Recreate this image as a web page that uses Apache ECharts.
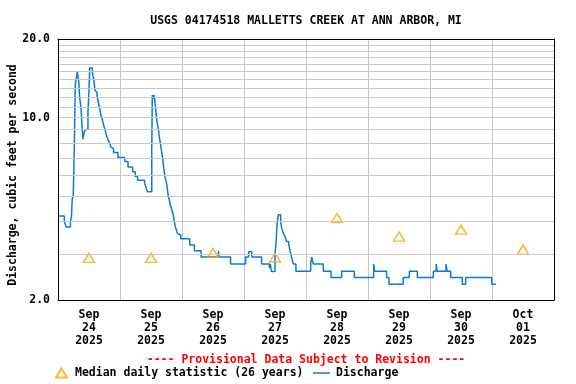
<!DOCTYPE html>
<html><head><meta charset="utf-8">
<script src="https://cdn.jsdelivr.net/npm/echarts@6/dist/echarts.min.js"></script>
<style>html,body{margin:0;padding:0;background:#fff}#c{width:576px;height:384px}</style>
</head><body><div id="c"></div>
<script>
// Hours since 2025-09-24 00:00 at which discharge changes, and the value held from then
const dischargeHours = [0,2.45,3.2,4.8,5.2,5.5,5.9,6.3,6.7,7.1,7.5,7.7,8.0,8.4,8.9,9.3,9.7,9.9,10.3,10.6,11.6,12.0,12.3,13.3,13.5,13.9,14.3,14.7,15.1,15.5,15.9,16.3,16.6,17.0,17.4,17.8,18.2,18.6,19.0,19.4,19.9,20.5,21.2,21.5,23.2,25.8,27.1,28.9,29.9,30.8,33.5,34.1,34.6,36.3,36.5,36.8,37.2,37.4,37.7,38.0,38.4,38.8,39.2,39.6,40.0,40.4,40.8,41.1,41.5,41.9,42.3,42.7,43.1,43.5,43.9,44.2,44.6,45.0,45.4,45.8,46.2,46.6,47.5,51.0,52.8,55.4,62.1,62.3,66.8,72.6,73.8,75.0,78.8,81.8,82.2,82.6,84.0,84.4,84.8,85.3,86.2,86.6,87.2,87.9,88.5,89.3,89.8,90.5,91.1,92.1,97.8,98.2,98.8,102.7,105.7,109.8,114.7,122.2,122.5,127.2,128.1,133.6,136.0,139.1,145.3,146.4,146.8,150.2,150.6,152.0,156.5,157.8,167.9,169.5];
const dischargeValues = [4.2,4.0,3.81,4.0,4.15,4.87,5.0,7.64,13.4,14.2,15.0,14.4,13.8,11.9,10.9,9.25,8.26,8.6,8.84,9.0,10.5,12.7,15.5,15.0,14.5,13.9,12.7,12.5,12.0,11.6,11.1,10.6,10.2,10.0,9.57,9.25,9.0,8.66,8.4,8.2,8.02,7.7,7.6,7.35,7.03,6.78,6.46,6.2,5.94,5.75,5.6,5.4,5.2,7.67,12.2,11.8,12.2,11.8,11.0,10.3,9.5,9.1,8.45,8.0,7.52,7.1,6.59,6.2,5.86,5.68,5.37,4.97,4.83,4.6,4.5,4.36,4.27,4.0,3.82,3.72,3.6,3.55,3.43,3.25,3.09,2.92,3.09,2.92,2.75,2.92,3.06,2.92,2.75,2.65,2.75,2.57,3.03,3.3,3.92,4.24,3.97,3.77,3.6,3.5,3.35,3.27,3.1,2.89,2.75,2.58,2.75,2.92,2.75,2.58,2.44,2.58,2.44,2.75,2.58,2.44,2.3,2.44,2.58,2.44,2.58,2.75,2.58,2.75,2.58,2.44,2.3,2.44,2.3,2.3];

const medianHours = [12,36,60,84,108,132,156,180];
const medianValues = [2.9,2.9,3.03,2.91,4.12,3.5,3.72,3.12];

const xTickHours = [12,36,60,84,108,132,156,180];
const xTickLabels = ['Sep\n24\n2025','Sep\n25\n2025','Sep\n26\n2025','Sep\n27\n2025','Sep\n28\n2025','Sep\n29\n2025','Sep\n30\n2025','Oct\n01\n2025'];
const yGridValues = [3,4,5,6,7,8,9,10,11,12,13,14,15,16,17,18,19];

const titleText = 'USGS 04174518 MALLETTS CREEK AT ANN ARBOR, MI';
const yAxisTitle = 'Discharge, cubic feet per second';
const provisionalText = '---- Provisional Data Subject to Revision ----';
const medianName = 'Median daily statistic (26 years)';
const dischargeName = 'Discharge';

const FONT = 'DejaVu Sans Mono';
const FS = 11.5;
const legendText = {color: '#000', fontFamily: FONT, fontWeight: 'bold', fontSize: FS, lineHeight: 14};

const chart = echarts.init(document.getElementById('c'), null, {renderer: 'canvas'});
const lineData = dischargeHours.map((h, i) => [h, dischargeValues[i]]);
const medianData = medianHours.map((h, i) => [h, medianValues[i]]);

chart.setOption({
  animation: false,
  backgroundColor: '#fff',
  grid: {left: 58, right: 22, top: 39, bottom: 84, containLabel: false},
  xAxis: [{
    type: 'value', min: 0, max: 192, interval: 24,
    axisLine: {show: true, lineStyle: {color: '#000', width: 1}},
    axisTick: {show: false},
    splitLine: {show: true, showMinLine: false, showMaxLine: false, lineStyle: {color: '#c8c8c8', width: 1}},
    axisLabel: {
      customValues: xTickHours,
      margin: 9,
      color: '#000', fontFamily: FONT, fontWeight: 'bold', fontSize: FS, lineHeight: 13,
      formatter: v => xTickLabels[xTickHours.indexOf(Math.round(v))] || ''
    }
  }, {
    type: 'value', position: 'top', min: 0, max: 192, z: 5,
    axisLine: {show: true, onZero: false, lineStyle: {color: '#000', width: 1}},
    axisTick: {show: false}, axisLabel: {show: false}, splitLine: {show: false}
  }],
  yAxis: [{
    type: 'log', logBase: 10, min: 2, max: 20, z: 5,
    axisLine: {show: true, onZero: false, lineStyle: {color: '#000', width: 1}},
    axisTick: {show: false},
    splitLine: {show: false},
    axisLabel: {
      showMinLabel: true, showMaxLabel: true, margin: 8, padding: [4, 0, 0, 0],
      color: '#000', fontFamily: FONT, fontWeight: 'bold', fontSize: FS,
      formatter: v => Number(v).toFixed(1)
    }
  }, {
    type: 'log', logBase: 10, min: 2, max: 20, position: 'right', z: 5,
    axisLine: {show: true, onZero: false, lineStyle: {color: '#000', width: 1}},
    axisTick: {show: false}, axisLabel: {show: false}, splitLine: {show: false}
  }],
  legend: [{
    data: [medianName],
    left: 55, top: 366, padding: 0,
    itemWidth: 11, itemHeight: 9,
    textStyle: Object.assign({padding: [0, 0, 0, 3]}, legendText)
  }, {
    data: [{name: dischargeName, icon: 'rect'}],
    left: 313, top: 366, padding: 0,
    itemWidth: 17, itemHeight: 1.5,
    textStyle: Object.assign({padding: [0, 0, 0, 1]}, legendText)
  }],
  series: [{
    name: 'grid', type: 'line', data: [], z: 1, silent: true,
    markLine: {
      silent: true, symbol: ['none', 'none'], label: {show: false},
      lineStyle: {color: '#c8c8c8', width: 1, type: 'solid'},
      emphasis: {disabled: true},
      data: yGridValues.map(v => ({yAxis: v}))
    }
  }, {
    name: dischargeName, type: 'line', step: 'end', data: lineData,
    symbol: 'none', showSymbol: false, z: 3,
    lineStyle: {color: '#0a7bd4', width: 1.5},
    itemStyle: {color: '#0a7bd4'}
  }, {
    name: medianName, type: 'scatter', data: medianData, z: 4,
    symbol: 'triangle', symbolSize: [11, 9],
    itemStyle: {color: 'rgba(255,255,255,0)', borderColor: '#FFA500', borderWidth: 1.5}
  }],
  graphic: [{
    type: 'text', x: 306, y: 21,
    style: {text: titleText, align: 'center', verticalAlign: 'middle', fill: '#000', font: 'bold ' + FS + 'px "' + FONT + '"'}
  }, {
    type: 'text', x: 13, y: 175, rotation: Math.PI / 2,
    style: {text: yAxisTitle, align: 'center', verticalAlign: 'middle', fill: '#000', font: 'bold ' + FS + 'px "' + FONT + '"'}
  }, {
    type: 'text', x: 306, y: 360,
    style: {text: provisionalText, align: 'center', verticalAlign: 'middle', fill: '#FF0000', font: 'bold ' + FS + 'px "' + FONT + '"'}
  }]
});
</script>
</body></html>
